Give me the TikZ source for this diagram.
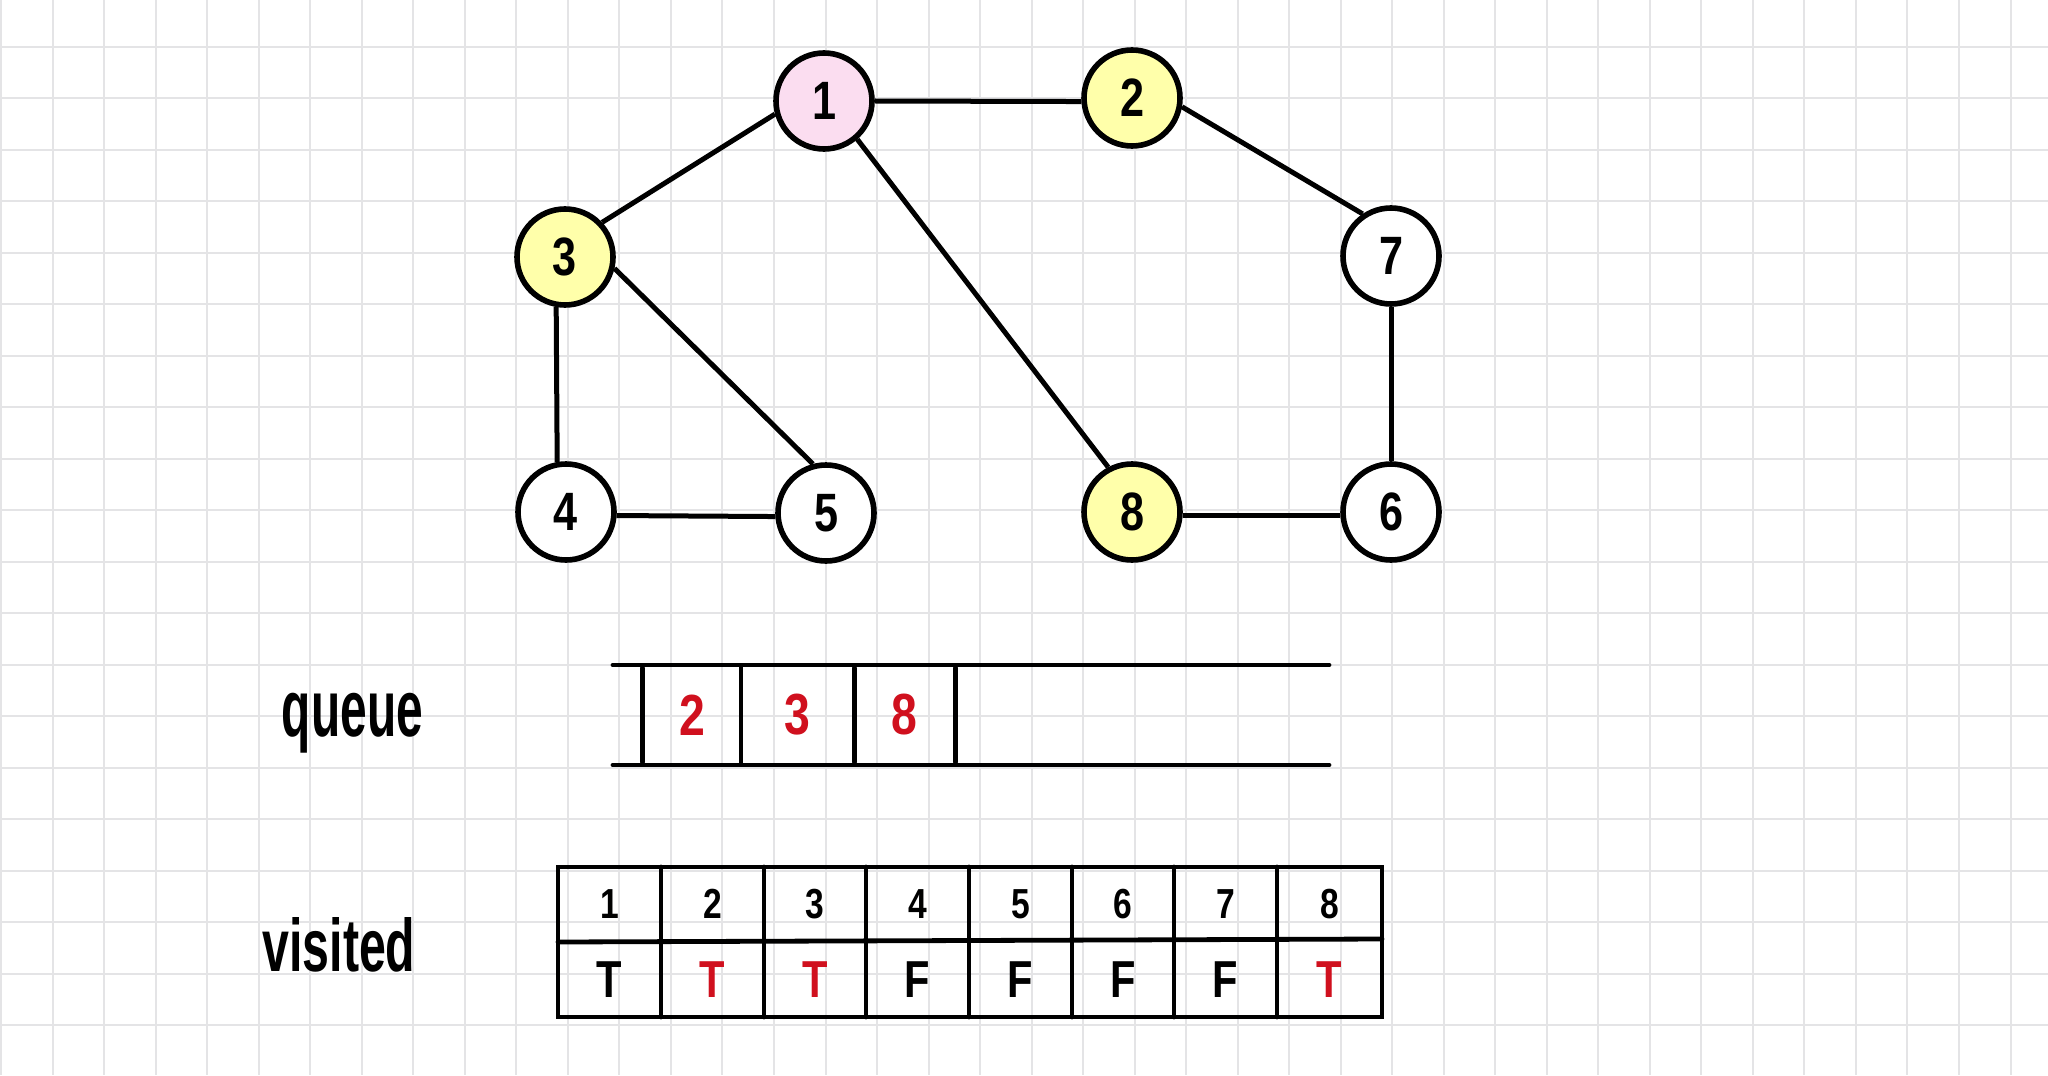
\documentclass[tikz,border=0pt]{standalone}
\usepackage{fontspec}
\setmainfont{Liberation Sans}
\newfontfamily\hand[FakeStretch=0.8]{Liberation Sans}
\definecolor{gridgray}{HTML}{E4E4E6}
\definecolor{pinkfill}{HTML}{FBDDF0}
\definecolor{yellowfill}{HTML}{FFFFAA}
\definecolor{redtext}{HTML}{D0101E}
\tikzset{
  gridline/.style={draw=gridgray, line width=1pt},
  vertex/.style={circle, draw=black, line width=2.8pt, minimum size=48pt, inner sep=0pt, fill=white, font=\hand\bfseries\fontsize{27}{30}\selectfont},
  visitednode/.style={vertex, fill=yellowfill},
  startnode/.style={vertex, fill=pinkfill},
  edge/.style={draw=black, line width=2.5pt},
  boxline/.style={draw=black, line width=2.4pt, line cap=round},
  qtext/.style={inner sep=0pt, text=redtext, font=\hand\bfseries\fontsize{29}{31}\selectfont},
  headtext/.style={inner sep=0pt, font=\hand\bfseries\fontsize{21}{23}\selectfont},
  valtext/.style={inner sep=0pt, font=\hand\bfseries\fontsize{26}{28}\selectfont},
  labeltext/.style={inner sep=0pt, font=\bfseries}
}
\begin{document}
\begin{tikzpicture}[x=0.5pt, y=-0.5pt]
\useasboundingbox (0,0) rectangle (2048,1075);
\fill[white] (0,0) rectangle (2048,1075);
% grid
\foreach \i in {0,...,39} \draw[gridline] ({1.2+51.52*\i},0) -- ({1.2+51.52*\i},1075);
\foreach \j in {0,...,19} \draw[gridline] (0,{46.7+51.5*\j}) -- (2048,{46.7+51.5*\j});
% graph nodes
\node[startnode]   (n1) at (824,101) {1};
\node[visitednode] (n2) at (1132,98) {2};
\node[visitednode] (n3) at (565,257) {3};
\node[vertex]      (n7) at (1391,256) {7};
\node[vertex]      (n4) at (566,512) {4};
\node[vertex]      (n5) at (826,513) {5};
\node[visitednode] (n8) at (1132,512) {8};
\node[vertex]      (n6) at (1391,512) {6};
% edges
\draw[edge] (n1.east) -- (n2.184);
\draw[edge] (n1.195) -- (n3.43);
\draw[edge] (n1.-49) -- (n8.118);
\draw[edge] (n2.-10) -- (n7.124);
\draw[edge] (n3.260) -- (n4.100);
\draw[edge] (n3.-13) -- (n5.105);
\draw[edge] (n4.-4) -- (n5.184);
\draw[edge] (n7.south) -- (n6.north);
\draw[edge] (n8.-4) -- (n6.184);
% queue
\node[labeltext] (lq) at (352.5,723) {\resizebox*{70.5pt}{30pt}{queue}};
\draw[boxline] (613,665) -- (1329,665);
\draw[boxline] (613,765) -- (1329,765);
\foreach \x in {642.3,741,854.3,955.4} \draw[boxline] (\x,668) -- (\x,762);
\node[qtext] (q2) at (692,715) {2};
\node[qtext] (q3) at (797.5,715) {3};
\node[qtext] (q8) at (904.6,715) {8};
% visited table
\node[labeltext] (lv) at (339,945) {\resizebox{76.5pt}{27pt}{visited}};
\draw[boxline] (558,867) rectangle (1382,1017);
\draw[boxline] (558,942) -- (1382,939);
\foreach \x in {661,764,866,969,1072,1174,1277} \draw[boxline] (\x,867) -- (\x,1017);
\foreach \n/\cx in {1/609.5,2/712.5,3/815,4/917.5,5/1020.5,6/1123,7/1225.5,8/1329.5}
  \node[headtext] (h\n) at (\cx,904) {\n};
\node[valtext] (v1) at (609.5,980) {T};
\node[valtext, text=redtext] (v2) at (712.5,980) {T};
\node[valtext, text=redtext] (v3) at (815,980) {T};
\node[valtext] (v4) at (917.5,980) {F};
\node[valtext] (v5) at (1020.5,980) {F};
\node[valtext] (v6) at (1123,980) {F};
\node[valtext] (v7) at (1225.5,980) {F};
\node[valtext, text=redtext] (v8) at (1329.5,980) {T};
\end{tikzpicture}
\end{document}
